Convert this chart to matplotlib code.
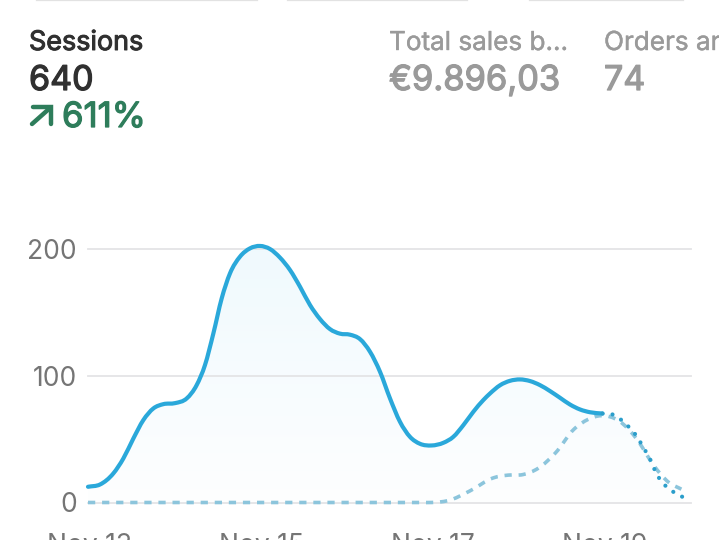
import numpy as np
import matplotlib
matplotlib.use("Agg")
import matplotlib.pyplot as plt
import matplotlib.patheffects as pe
from matplotlib.lines import Line2D
from matplotlib.path import Path
from matplotlib.patches import PathPatch

# days since Nov 13
solid_days = [0, 0.14, 0.295, 0.412, 0.529, 0.645, 0.762, 0.879, 1.015, 1.151, 1.267, 1.364,
              1.462, 1.559, 1.656, 1.773, 1.889, 2.006, 2.122, 2.239, 2.356, 2.472, 2.589,
              2.706, 2.822, 2.939, 3.055, 3.172, 3.289, 3.405, 3.522, 3.638, 3.755, 3.872,
              4.008, 4.144, 4.26, 4.377, 4.494, 4.61, 4.688, 4.805, 4.921, 5.038, 5.155,
              5.271, 5.388, 5.505, 5.621, 5.738, 5.855, 6.0]
solid_vals = [12.4, 14.2, 22.9, 34.7, 50.5, 65, 74.2, 77.6, 78.4, 82.1, 92.6, 108.4,
              133.4, 161, 180.8, 194, 200.5, 202.4, 200, 193.2, 183.4, 170.3, 155.8,
              144.7, 136.8, 133.2, 132.4, 128.9, 118.9, 103.2, 82.1, 63.7, 51.8, 46.3,
              45, 47.1, 51.8, 61, 71.6, 80.8, 86, 92.5, 96, 97.1, 95.8,
              92.6, 87.9, 82.6, 77.3, 73.4, 71.2, 70.2]
dotted_days = [6.0, 6.14, 6.27, 6.38, 6.48, 6.556, 6.63, 6.73, 6.85, 6.94]
dotted_vals = [70.2, 68.9, 62, 54, 43, 34, 22.7, 13.5, 7.4, 4.2]
prev_days = [0, 1, 2, 3, 3.9, 4.0, 4.1, 4.2, 4.45, 4.73, 4.9, 5.07, 5.25, 5.45, 5.67, 5.83, 5.98,
             6.2, 6.4, 6.6, 6.77, 6.92]
prev_vals = [0, 0, 0, 0, 0, 0, 0.4, 1.5, 9, 19.5, 21.6, 22, 27, 39, 58, 65.5, 68.5,
             64, 50, 29, 16, 10.5]

x_ticks = [0.02, 2.02, 4.02, 6.02]
x_labels = ["Nov 13", "Nov 15", "Nov 17", "Nov 19"]
y_ticks = [0, 100, 200]

W, H = 719, 540
BLUE = "#2aa8da"
PALE = "#8cc5dc"
GREEN = "#2e7d5b"
DARK = "#303030"
GREY = "#9a9a9a"
plt.rcParams["font.family"] = ["Inter", "DejaVu Sans"]


def smooth_path(x, y, close_to=None):
    # catmull-rom through the read points, drawn as bezier segments
    x = np.asarray(x, dtype=float)
    y = np.asarray(y, dtype=float)
    slope = np.gradient(y, x)
    verts = [(x[0], y[0])]
    codes = [Path.MOVETO]
    for i in range(len(x) - 1):
        dx = (x[i + 1] - x[i]) / 3
        verts += [(x[i] + dx, y[i] + slope[i] * dx),
                  (x[i + 1] - dx, y[i + 1] - slope[i + 1] * dx),
                  (x[i + 1], y[i + 1])]
        codes += [Path.CURVE4] * 3
    if close_to is not None:
        verts += [(x[-1], close_to), (x[0], close_to), (x[0], y[0])]
        codes += [Path.LINETO, Path.LINETO, Path.CLOSEPOLY]
    return Path(verts, codes)


def fx(px):
    return px / W


def fy(py):
    return 1 - py / H


def header(px, py, s, size, color, stroke):
    t = fig.text(fx(px), fy(py), s, fontsize=size, color=color, va="baseline")
    # the installed Inter is only regular, thicken it a bit
    t.set_path_effects([pe.withStroke(linewidth=stroke, foreground=color)])


fig = plt.figure(figsize=(W / 100, H / 100), dpi=100)

# axes placed so 0 / 200 sit on the same pixels as the screenshot
top_val = 210
px_per_val = (502.5 - 249) / 200
top_px = 502.5 - top_val * px_per_val
ax = fig.add_axes([fx(88), fy(502.5), fx(691 - 88), (502.5 - top_px) / H])
ax.patch.set_alpha(0)
day_px = 85.75
x_max = (691 - 88) / day_px

# soft fill under the current period
grad = np.linspace(0, 1, 256).reshape(-1, 1, 1)
top_col = np.array([0.94, 0.978, 0.995])
bot_col = np.array([0.995, 0.997, 0.998])
rgb = top_col * (1 - grad) + bot_col * grad
img = ax.imshow(rgb, extent=[0, x_max, 0, 202], aspect="auto", origin="upper", zorder=1)
clip = PathPatch(smooth_path(solid_days + dotted_days[1:], solid_vals + dotted_vals[1:], close_to=0),
                 transform=ax.transData, fc="none", ec="none")
ax.add_patch(clip)
img.set_clip_path(clip)

ax.add_patch(PathPatch(smooth_path(prev_days, prev_vals), fill=False, ec=PALE, lw=2.6,
                       linestyle=(0, (2.0, 1.9)), capstyle="butt", clip_on=False, zorder=3))
ax.add_patch(PathPatch(smooth_path(solid_days, solid_vals), fill=False,
                       ec=BLUE, lw=3.0, capstyle="round", clip_on=False, zorder=4))
ax.add_patch(PathPatch(smooth_path(dotted_days, dotted_vals), fill=False,
                       ec="#2b9ecb", lw=3.0, linestyle=(0, (0.01, 2.4)), capstyle="round",
                       clip_on=False, zorder=4))

ax.set_xlim(0, x_max)
ax.set_ylim(0, top_val)
ax.set_xticks(x_ticks)
ax.set_xticklabels(x_labels)
ax.set_yticks(y_ticks)
ax.tick_params(axis="both", length=0, labelsize=19, labelcolor="#757575")
ax.tick_params(axis="y", pad=8)
ax.tick_params(axis="x", pad=22)
ax.grid(axis="y", color="#e4e4e6", lw=1.3, zorder=0)
for gl in ax.get_ygridlines():
    gl.set_clip_on(False)
for s in ax.spines.values():
    s.set_visible(False)

# header texts
header(29, 50, "Sessions", 19.4, DARK, 0.7)
header(29, 90, "640", 24.5, DARK, 0.9)
header(62, 127, "611%", 25, GREEN, 0.9)
header(389, 50, "Total sales b...", 18.8, GREY, 0.3)
header(389, 90, "€9.896,03", 24.8, GREY, 0.9)
header(604, 50, "Orders ar", 18.8, GREY, 0.3)
header(604, 90, "74", 24.5, GREY, 0.9)

# up arrow next to the percentage
arrow_x = [32, 50]
arrow_y = [124, 108]
fig.add_artist(Line2D([fx(v) for v in arrow_x], [fy(v) for v in arrow_y], color=GREEN, lw=3.2,
                      solid_capstyle="round"))
fig.add_artist(Line2D([fx(33), fx(51), fx(51)], [fy(107), fy(107), fy(124)], color=GREEN, lw=3.2,
                      solid_capstyle="round", solid_joinstyle="miter"))

# bottoms of the cards above, cut off by the screenshot
for a, b in [(37, 257), (288, 467), (530, 683)]:
    fig.add_artist(Line2D([fx(a), fx(b)], [fy(0), fy(0)], color="#e2e2e2", lw=1.6))

fig.savefig("out.png", dpi=100)
